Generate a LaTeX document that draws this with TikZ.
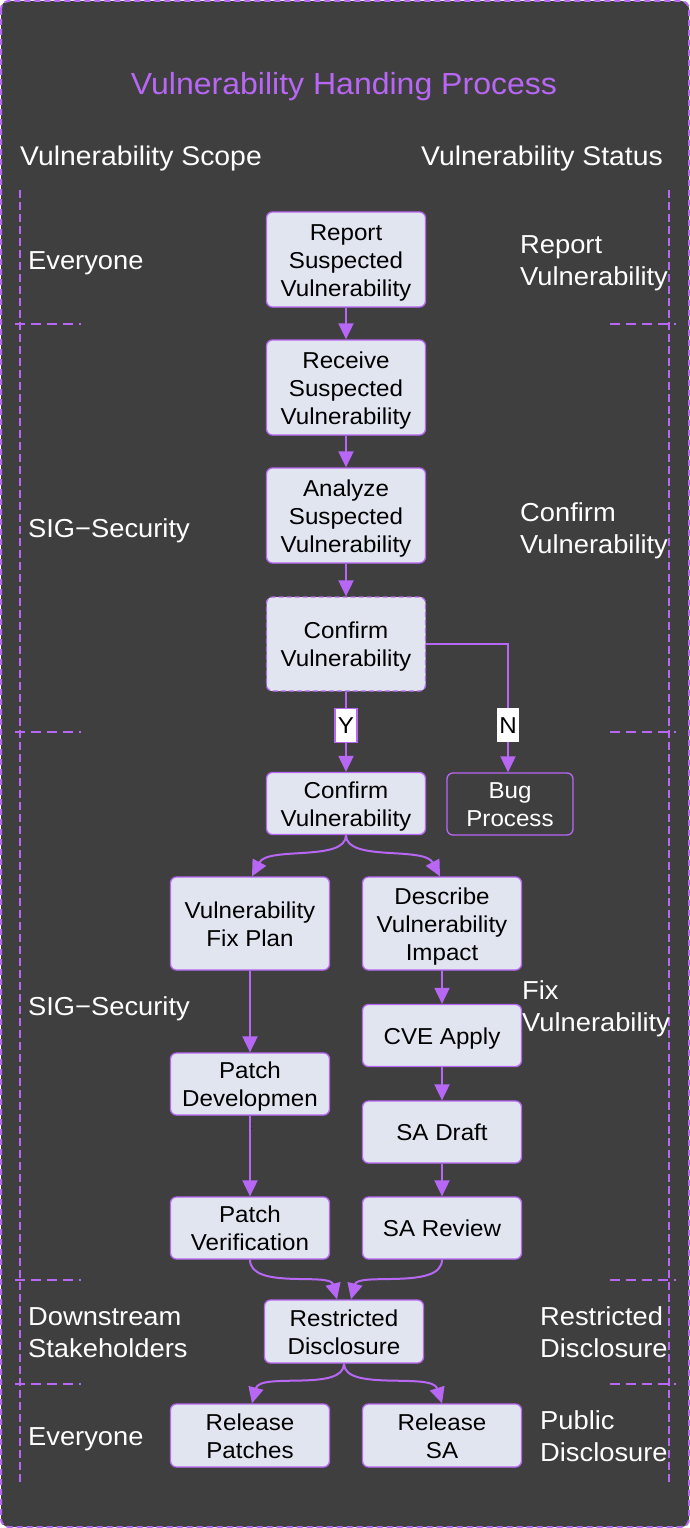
\documentclass[tikz,border=0pt]{standalone}
\usepackage{fontspec}
\setmainfont{Liberation Sans}[FakeStretch=1.05]
\usetikzlibrary{arrows.meta}
\definecolor{bg}{HTML}{3F3F3F}
\definecolor{pur}{HTML}{B867F5}
\definecolor{nfill}{HTML}{E1E5EF}
\newcommand\bxtop{\rule{0pt}{22.5pt}}
\newcommand\bxbot{\rule[-5.5pt]{0pt}{5.5pt}}
\newcommand\lbtop{\rule{0pt}{25pt}}
\newcommand\lbbot{\rule[-7pt]{0pt}{7pt}}
\tikzset{
  box/.style={draw=pur, line width=1.3pt, fill=nfill, rounded corners=6pt, minimum width=159pt, align=center, text=black, font=\fontsize{23}{28}\selectfont, inner sep=0pt, execute at begin node=\bxtop, execute at end node=\bxbot},
  tall/.style={minimum height=95pt},
  mid/.style={minimum height=93pt},
  short/.style={minimum height=62pt},
  arr/.style={draw=pur, line width=2pt, -{Triangle[length=16pt,width=15pt]}},
  lbl/.style={text=white, align=left, anchor=west, font=\fontsize{26}{32}\selectfont, inner sep=0pt, execute at begin node=\lbtop, execute at end node=\lbbot},
  hdr/.style={text=white, anchor=base west, font=\fontsize{27}{32}\selectfont, inner sep=0pt},
  sep/.style={draw=pur, line width=1.8pt, dash pattern=on 10pt off 6pt},
  vline/.style={draw=pur, line width=1.3pt, dash pattern=on 8pt off 4pt},
  yn/.style={text=black, fill=white, font=\fontsize{23}{28}\selectfont, inner sep=0pt, minimum width=22pt, minimum height=34pt, execute at begin node=\bxtop, execute at end node=\bxbot},
}
\begin{document}
\begin{tikzpicture}[x=1pt,y=-1pt]
\useasboundingbox (0,0) rectangle (690,1528);
\draw[pur, line width=2pt, dash pattern=on 6pt off 4pt, fill=bg, rounded corners=8pt] (1,1) rectangle (689,1527);

\node[text=pur, font=\fontsize{30.5}{34}\selectfont, inner sep=0pt, anchor=base] (title) at (344,94) {Vulnerability Handing Process};
\node[hdr] (hscope) at (20,165.5) {Vulnerability Scope};
\node[hdr, anchor=base east] (hstatus) at (663,165.5) {Vulnerability Status};

% lane lines
\draw[vline] (20,190) -- (20,1482);
\draw[vline] (669,190) -- (669,1482);
\foreach \yy in {324,732,1280,1384} {
  \draw[sep] (15,\yy) -- (81,\yy);
  \draw[sep] (610,\yy) -- (676,\yy);
}

% left labels
\node[lbl] (l1) at (28,260) {Everyone};
\node[lbl] (l2) at (28,528) {SIG−Security};
\node[lbl] (l3) at (28,1006) {SIG−Security};
\node[lbl] (l4) at (28,1332) {\lbtop Downstream\\Stakeholders};
\node[lbl] (l5) at (28,1436) {Everyone};
% right labels
\node[lbl] (r1) at (520,260) {\lbtop Report\\Vulnerability};
\node[lbl] (r2) at (520,528) {\lbtop Confirm\\Vulnerability};
\node[lbl] (r3) at (522,1006) {\lbtop Fix\\Vulnerability};
\node[lbl] (r4) at (540,1332) {\lbtop Restricted\\Disclosure};
\node[lbl] (r5) at (540,1436) {\lbtop Public\\Disclosure};

% nodes
\node[box, tall] (report) at (346,259.5) {\bxtop Report\\Suspected\\Vulnerability};
\node[box, tall] (receive) at (346,387.5) {\bxtop Receive\\Suspected\\Vulnerability};
\node[box, tall] (analyze) at (346,515.5) {\bxtop Analyze\\Suspected\\Vulnerability};
\node[box, tall, dashed, dash pattern=on 5pt off 3pt, minimum height=94pt] (confq) at (346,644) {\bxtop Confirm\\Vulnerability};
\node[box, short] (conf) at (346,803.5) {\bxtop Confirm\\Vulnerability};
\node[box, short, fill=bg, text=white, minimum width=126pt] (bug) at (510,804) {\bxtop Bug\\Process};
\node[box, mid] (fixplan) at (250,923.5) {\bxtop Vulnerability\\Fix Plan};
\node[box, mid] (describe) at (442,923.5) {\bxtop Describe\\Vulnerability\\Impact};
\node[box, short] (cve) at (442,1035.5) {CVE Apply};
\node[box, short] (patchdev) at (250,1084) {\bxtop Patch\\Developmen};
\node[text=black, font=\fontsize{10}{10}\selectfont, inner sep=0pt] (stray) at (251,1127) {:};
\node[box, short] (sadraft) at (442,1132) {SA Draft};
\node[box, short] (patchver) at (250,1228) {\bxtop Patch\\Verification};
\node[box, short] (sareview) at (442,1228) {SA Review};
\node[box, short, minimum height=63pt] (restricted) at (344,1331.5) {\bxtop Restricted\\Disclosure};
\node[box, short, minimum height=63pt] (relpatch) at (250,1435.5) {\bxtop Release\\Patches};
\node[box, short, minimum height=63pt] (relsa) at (442,1435.5) {\bxtop Release\\SA};

% straight arrows
\draw[arr] (report) -- (receive);
\draw[arr] (receive) -- (analyze);
\draw[arr] (analyze) -- (confq);
\draw[arr] (confq) -- node[pos=0.42, yn, draw=pur, line width=1.5pt] (ylab) {Y} (conf);
\coordinate (ncorner) at (508,644);
\draw[arr] (confq.east) -- (ncorner) -- node[pos=0.63, yn] (nlab) {N} (bug.north -| ncorner);
\draw[arr] (fixplan) -- (patchdev);
\draw[arr] (patchdev) -- (patchver);
\draw[arr] (describe) -- (cve);
\draw[arr] (cve) -- (sadraft);
\draw[arr] (sadraft) -- (sareview);

% curved arrows
\draw[arr] (conf.south) .. controls (346,862) and (268,846) .. ([xshift=2pt]fixplan.north);
\draw[arr] (conf.south) .. controls (346,862) and (424,846) .. ([xshift=-2pt]describe.north);
\draw[arr] (patchver.south) .. controls (250,1290) and (330,1272) .. ([xshift=-7pt]restricted.north);
\draw[arr] (sareview.south) .. controls (442,1290) and (358,1272) .. ([xshift=7pt]restricted.north);
\draw[arr] (restricted.south) .. controls (344,1392) and (260,1372) .. ([xshift=2pt]relpatch.north);
\draw[arr] (restricted.south) .. controls (344,1392) and (432,1372) .. ([xshift=0pt]relsa.north);
\end{tikzpicture}
\end{document}
